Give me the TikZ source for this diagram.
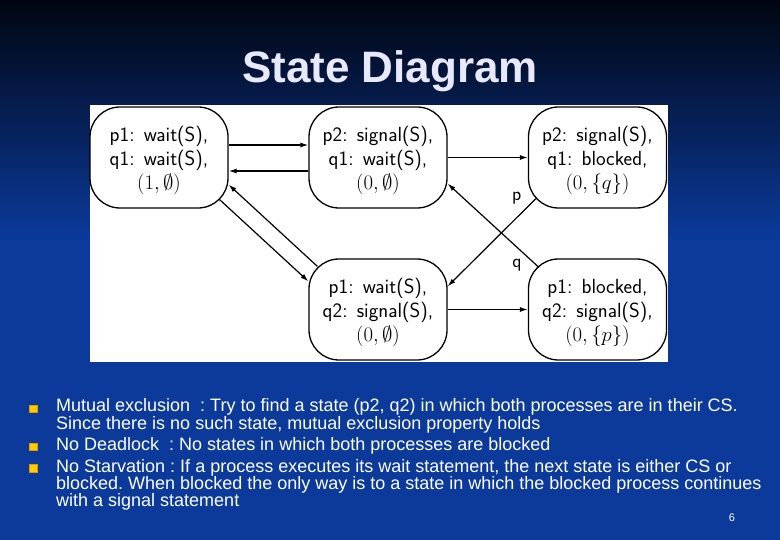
\documentclass[tikz,border=0pt]{standalone}
\usepackage{fontspec}
\setmainfont{Liberation Sans}
\usetikzlibrary{calc,arrows.meta}
\definecolor{slideblue}{RGB}{11,58,155}
\definecolor{slidemid}{RGB}{6,36,106}
\definecolor{slidetop}{RGB}{1,5,16}
\definecolor{titlecol}{RGB}{232,232,255}
\definecolor{bulletyellow}{RGB}{255,204,0}
\definecolor{bulletedge}{RGB}{230,150,0}
\newcommand{\colgap}{\hspace{0.45em}}
\newcommand{\tightskip}{\lineskiplimit=-10pt\relax}
\newcommand{\topstrut}{\rule{0pt}{21.5pt}}
\frenchspacing

\begin{document}
\begin{tikzpicture}[x=1pt,y=-1pt,
	state/.style={draw, line width=1.3pt, rounded corners=30pt, minimum width=138pt, minimum height=101pt, align=center, inner sep=0pt, font=\sffamily\fontsize{20.5}{24}\selectfont},
	trans/.style={line width=1.2pt, -{Latex[length=8pt,width=5pt]}},
	edgelabel/.style={inner sep=0pt, font=\sffamily\fontsize{19}{20}\selectfont},
	bullettext/.style={anchor=base west, align=left, inner sep=0pt, text=white, font={\fontsize{18}{17.3}\selectfont\tightskip}},
	bulletsq/.style={fill=bulletyellow, draw=bulletedge, line width=0.5pt, minimum size=7.5pt, inner sep=0pt}]
			%%%%% BACKGROUND %%%%%
			\useasboundingbox (0,0) rectangle (780,540);
			\shade[top color=slidetop, middle color=slidemid, bottom color=slideblue] (0,0) rectangle (780,240);
			\fill[slideblue] (0,239) rectangle (780,540);
			
			\node[font=\bfseries\fontsize{44}{44}\selectfont, text=titlecol, anchor=base] (title) at (390,83) {State Diagram};
			
			\fill[white] (90,105) rectangle (668,362);
			
			%%%%% STATES %%%%%
			\node[state] (A) at (159,157.5) {\topstrut p1:\colgap wait(S),\\q1:\colgap wait(S),\\$(1,\emptyset)$};
			\node[state] (B) at (378,157.5) {\topstrut p2:\colgap signal(S),\\q1:\colgap wait(S),\\$(0,\emptyset)$};
			\node[state] (C) at (597.5,157.5) {\topstrut p2:\colgap signal(S),\\q1:\colgap blocked,\\$(0,\{q\})$};
			\node[state] (D) at (378,309.5) {\topstrut p1:\colgap wait(S),\\q2:\colgap signal(S),\\$(0,\emptyset)$};
			\node[state] (E) at (597.5,309.5) {\topstrut p1:\colgap blocked,\\q2:\colgap signal(S),\\$(0,\{p\})$};
			
			\draw[trans] ($(A.east)+(0,-12.5)$) -- ($(B.west)+(0,-12.5)$);
			\draw[trans] ($(B.west)+(0,13.5)$) -- ($(A.east)+(0,13.5)$);
			\draw[trans] (B) -- (C);
			\draw[trans] (D) -- (E);
			\draw[trans] ($(A.south east)+(-9,-9)$) -- ($(D.north west)+(0,23)$);
			\draw[trans] ($(D.north west)+(9,8)$) -- ($(A.south east)+(0,-24)$);
			\draw[trans] ($(C.south west)+(8,-10)$) -- node[edgelabel, pos=0, left=14pt] (plabel) {p} ($(D.north east)+(0,28)$);
			\draw[trans] ($(E.north west)+(11,9)$) -- node[edgelabel, pos=0.05, left=12pt, yshift=-2pt] (qlabel) {q} ($(B.south east)+(0,-25)$);
			
			%%%%% TEXT %%%%%
			\node[bulletsq] (b1) at (33,408.5) {};
			\node[bulletsq] (b2) at (33,446.5) {};
			\node[bulletsq] (b3) at (33,468) {};
			\node[bullettext] (mutex) at (56,429) {Mutual exclusion\ \ : Try to find a state (p2, q2) in which both processes are in their CS.\\Since there is no such state, mutual exclusion property holds};
			\node[bullettext] (deadlock) at (56,450.7) {No Deadlock\ \ : No states in which both processes are blocked};
			\node[bullettext] (starve) at (56,506.7) {No Starvation : If a process executes its wait statement, the next state is either CS or\\blocked. When blocked the only way is to a state in which the blocked process continues\\with a signal statement};
			\node[anchor=base, text=white, font=\fontsize{11}{11}\selectfont] (pagenum) at (732,521.5) {6};
\end{tikzpicture}
\end{document}
